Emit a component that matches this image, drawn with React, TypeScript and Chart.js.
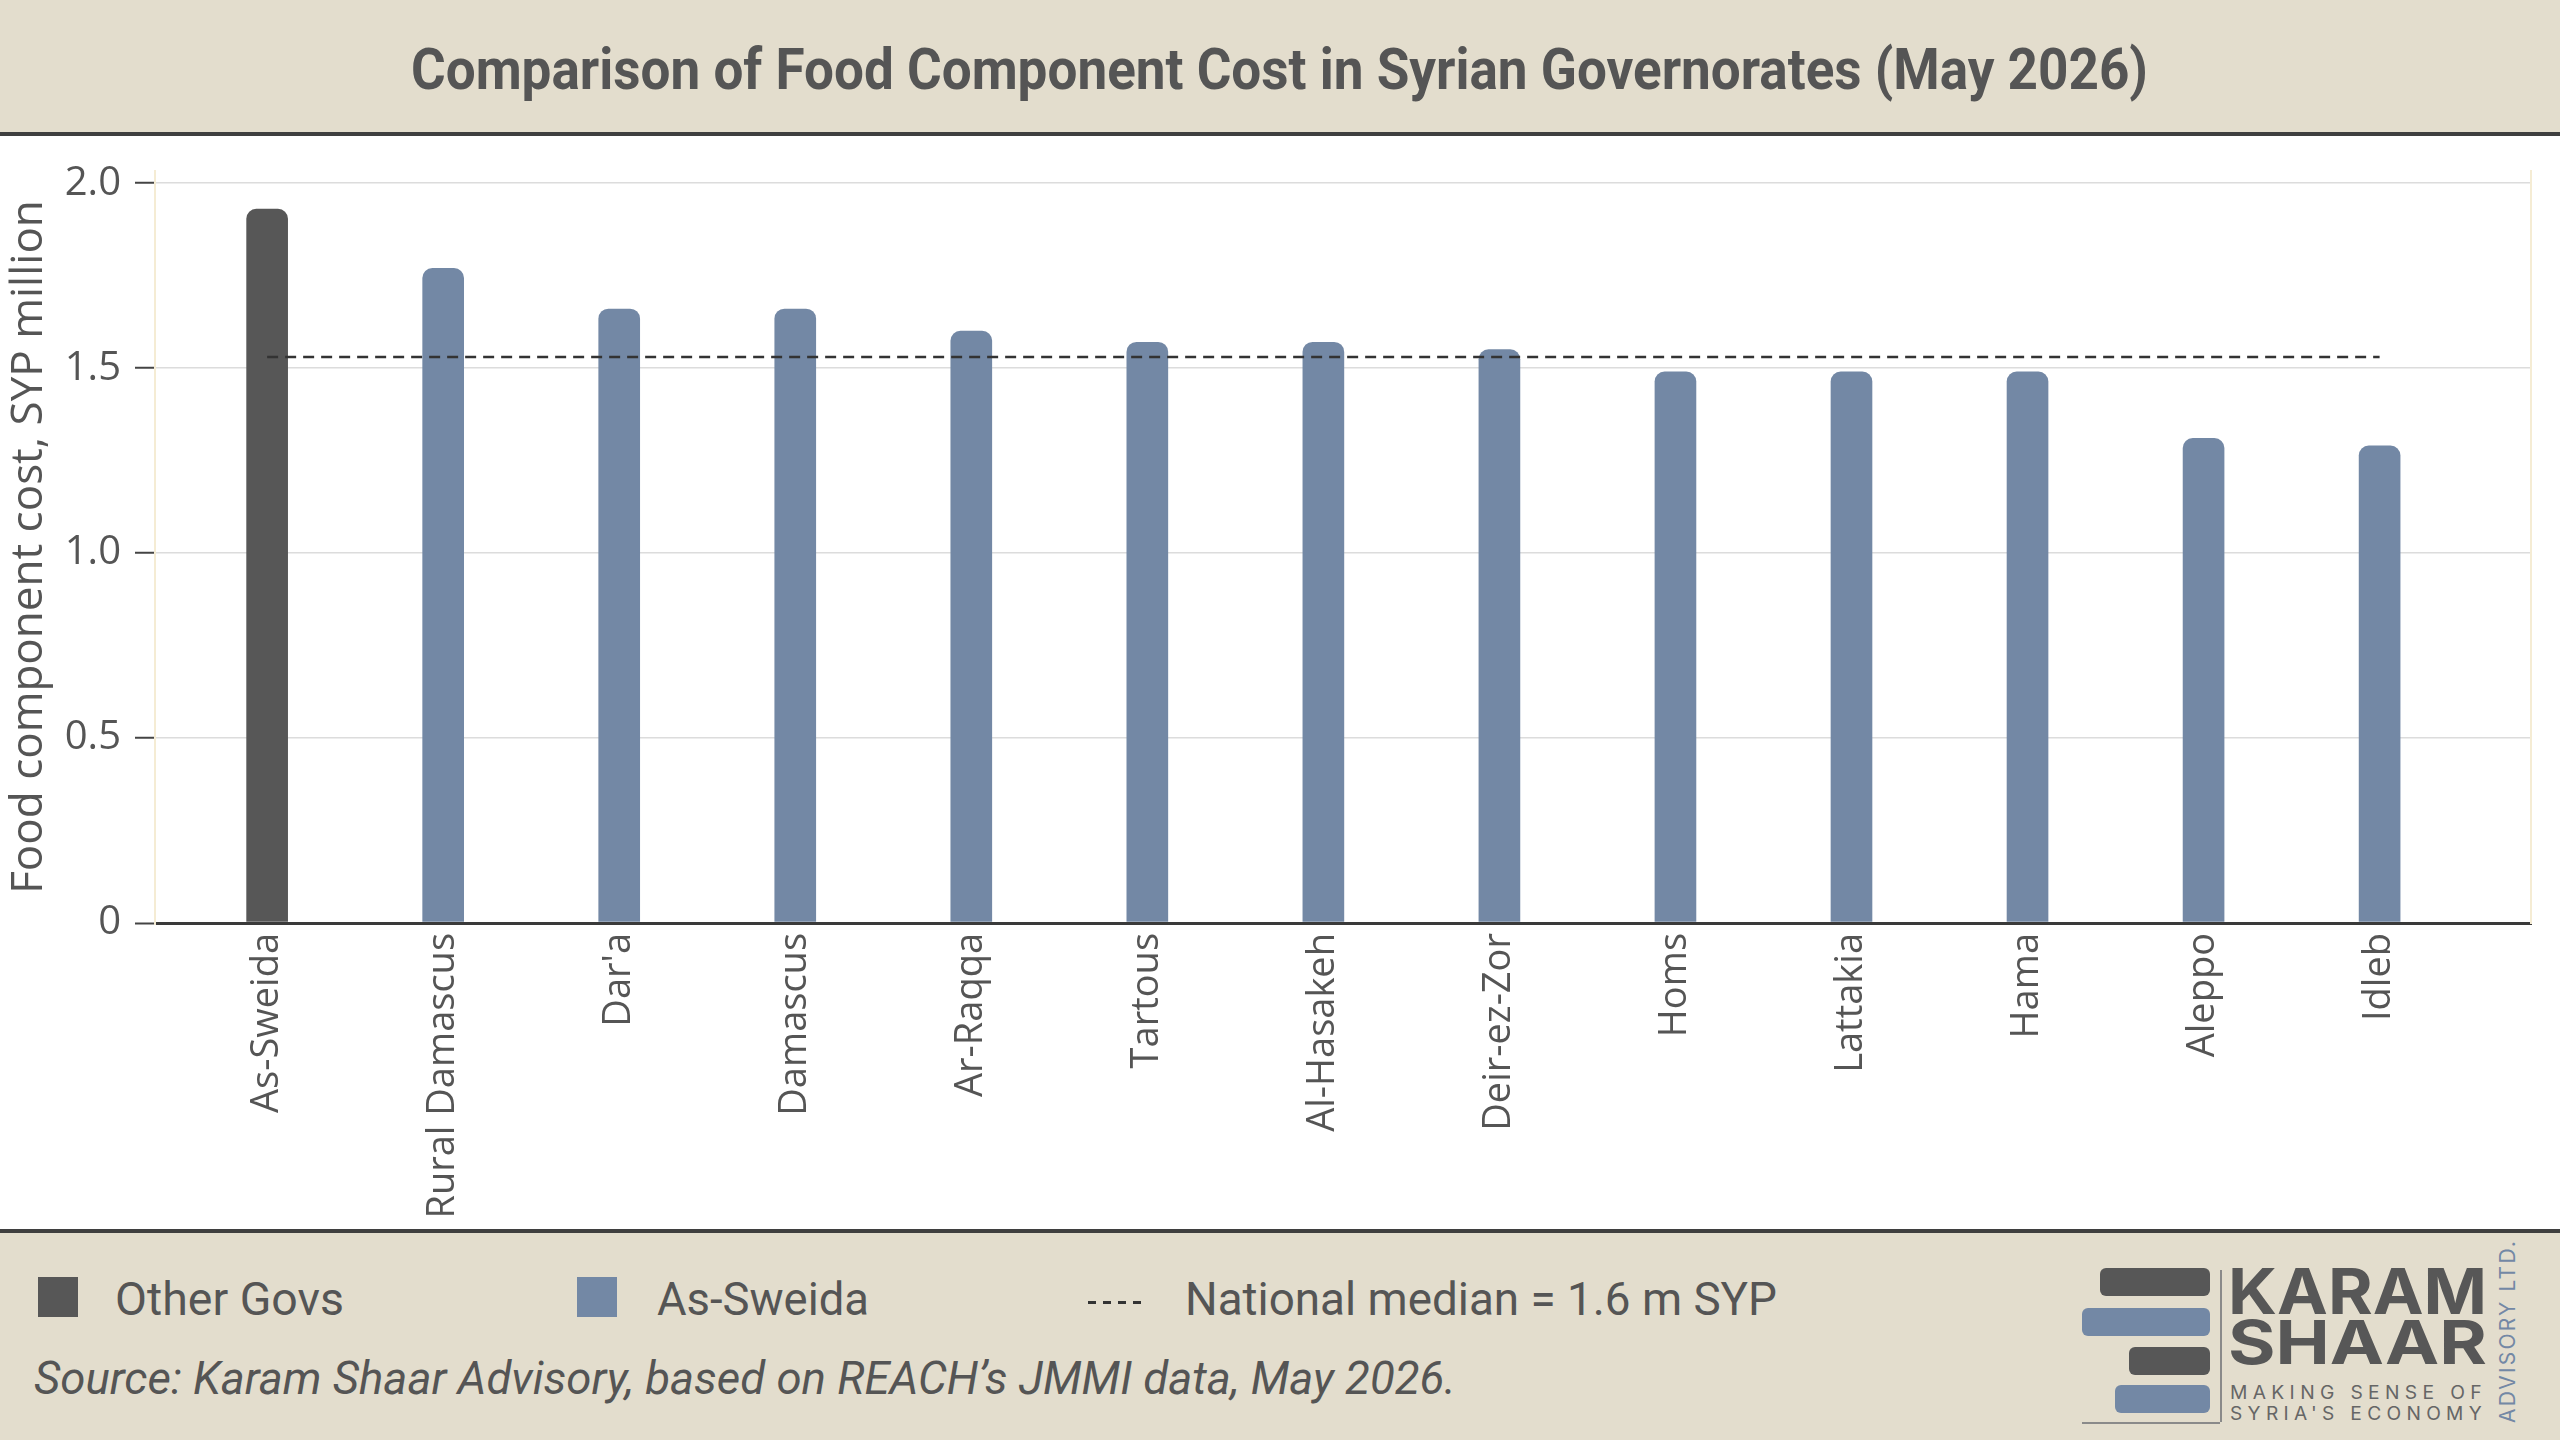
import React, { useEffect, useLayoutEffect, useRef } from 'react';
import Chart from 'chart.js/auto';

// data
const categories = [
  'As-Sweida', 'Rural Damascus', "Dar'a", 'Damascus', 'Ar-Raqqa', 'Tartous', 'Al-Hasakeh',
  'Deir-ez-Zor', 'Homs', 'Lattakia', 'Hama', 'Aleppo', 'Idleb',
];
const foodCost = [1.93, 1.77, 1.66, 1.66, 1.6, 1.57, 1.57, 1.55, 1.49, 1.49, 1.49, 1.31, 1.29];
const nationalMedian = 1.53;
const yTicks = [0, 0.5, 1, 1.5, 2];
const highlight = 'As-Sweida';

const DARK = '#575757';
const BLUE = '#7388a5';
const BEIGE = '#e3ddcd';
const TEXT = '#555555';

function Fit({ text, width, style }: { text: string; width: number; style?: React.CSSProperties }) {
  const ref = useRef<HTMLSpanElement | null>(null);
  useLayoutEffect(() => {
    const fit = () => {
      const el = ref.current;
      if (!el) return;
      el.style.transform = 'none';
      const w = el.getBoundingClientRect().width;
      if (w > 0) el.style.transform = `scaleX(${width / w})`;
    };
    fit();
    if (document.fonts) document.fonts.ready.then(fit);
  }, [text, width]);
  return (
    <span
      ref={ref}
      style={{ display: 'inline-block', whiteSpace: 'nowrap', transformOrigin: 'left center', ...style }}
    >
      {text}
    </span>
  );
}

function FoodChart() {
  const chartRef = useRef<HTMLCanvasElement | null>(null);

  useEffect(() => {
    if (!chartRef.current) return;

    const chart = new Chart(chartRef.current, {
      type: 'bar',
      data: {
        datasets: [
          {
            type: 'line',
            label: 'National median',
            data: categories.map((_, i) => ({ x: i, y: nationalMedian })),
            borderColor: '#333333',
            borderWidth: 2.5,
            borderDash: [11, 7],
            pointRadius: 0,
            order: 0,
          } as any,
          {
            label: 'Food component cost',
            data: categories.map((c, i) => ({ x: i, y: foodCost[i] })),
            backgroundColor: categories.map((c) => (c === highlight ? DARK : BLUE)),
            barThickness: 41,
            borderRadius: { topLeft: 10, topRight: 10, bottomLeft: 0, bottomRight: 0 },
            borderSkipped: false,
            order: 1,
          },
        ],
      },
      options: {
        animation: false,
        responsive: true,
        maintainAspectRatio: false,
        layout: { padding: { top: 171, right: 29, bottom: 0, left: 0 } },
        plugins: {
          legend: { display: false },
          tooltip: { enabled: false },
        },
        scales: {
          x: {
            type: 'linear',
            offset: false,
            min: -0.637,
            max: 12.86,
            afterBuildTicks: (axis) => {
              axis.ticks = categories.map((_, i) => ({ value: i }));
            },
            afterFit: (scale) => {
              scale.height = 517;
            },
            ticks: {
              autoSkip: false,
              maxRotation: 90,
              minRotation: 90,
              padding: 10,
              color: TEXT,
              font: { family: 'Open Sans', size: 38 },
              callback: (v) => categories[v as number] ?? '',
            },
            grid: { display: false, drawTicks: false },
            border: { display: true, color: '#3a3a3a', width: 3 },
          },
          y: {
            min: 0,
            max: 2.033,
            afterBuildTicks: (axis) => {
              axis.ticks = yTicks.map((v) => ({ value: v }));
            },
            afterFit: (scale) => {
              scale.width = 155;
            },
            ticks: {
              padding: 14,
              color: TEXT,
              font: { family: 'Open Sans', size: 40 },
              callback: (v) => (v === 0 ? '0' : (v as number).toFixed(1)),
            },
            grid: {
              color: (ctx) => (ctx.tick && ctx.tick.value === 0 ? '#3a3a3a' : '#dcdcdc'),
              lineWidth: (ctx) => (ctx.tick && ctx.tick.value === 0 ? 3 : 1.5),
              tickLength: 20,
              tickColor: '#444444',
              tickWidth: 2,
            },
            border: { display: true, color: '#f5ecd4', width: 2 },
            title: {
              display: true,
              text: 'Food component cost, SYP million',
              color: TEXT,
              font: { family: 'Open Sans', size: 44 },
              padding: { top: 3, bottom: 0 },
            },
          },
          yRight: {
            position: 'right',
            min: 0,
            max: 2.033,
            afterFit: (scale) => {
              scale.width = 0;
            },
            ticks: { display: false },
            grid: { display: false, drawTicks: false },
            border: { display: true, color: '#f5ecd4', width: 2 },
          },
        },
      },
    });

    return () => chart.destroy();
  }, []);

  return <canvas ref={chartRef} />;
}

function Logo() {
  const bar = (left: number, top: number, width: number, color: string) => (
    <div
      style={{
        position: 'absolute', left, top, width, height: 28,
        background: color, borderRadius: 6,
      }}
    />
  );
  return (
    <>
      {bar(2100, 1268, 110, DARK)}
      {bar(2082, 1308, 128, BLUE)}
      {bar(2129, 1347, 81, DARK)}
      {bar(2115, 1385, 95, BLUE)}
      <div style={{ position: 'absolute', left: 2220, top: 1270, width: 1.5, height: 152, background: '#8a8a8a' }} />
      <div style={{ position: 'absolute', left: 2082, top: 1422, width: 138, height: 1.5, background: '#8a8a8a' }} />
      <div style={{ position: 'absolute', left: 2228, top: 1262, lineHeight: '58px' }}>
        <Fit text="KARAM" width={259} style={{ fontFamily: 'Inter', fontWeight: 700, fontSize: 63, color: DARK }} />
      </div>
      <div style={{ position: 'absolute', left: 2228, top: 1313, lineHeight: '58px' }}>
        <Fit text="SHAAR" width={259} style={{ fontFamily: 'Inter', fontWeight: 700, fontSize: 60, color: DARK }} />
      </div>
      <div style={{ position: 'absolute', left: 2230, top: 1383, lineHeight: '20px' }}>
        <Fit text="MAKING SENSE OF" width={257} style={{ fontFamily: 'Inter', fontSize: 18, letterSpacing: 5, color: '#666' }} />
      </div>
      <div style={{ position: 'absolute', left: 2230, top: 1404, lineHeight: '20px' }}>
        <Fit text="SYRIA'S ECONOMY" width={257} style={{ fontFamily: 'Inter', fontSize: 18, letterSpacing: 5, color: '#666' }} />
      </div>
      <div
        style={{
          position: 'absolute', left: 2496, top: 1266, height: 157,
          writingMode: 'vertical-rl', transform: 'rotate(180deg)',
          fontFamily: 'Inter', fontSize: 21, letterSpacing: 2.2, color: BLUE,
          whiteSpace: 'nowrap', lineHeight: '24px',
        }}
      >
        ADVISORY LTD.
      </div>
    </>
  );
}

export default function App() {
  const legendText: React.CSSProperties = { fontFamily: 'Roboto', fontSize: 47, color: TEXT };
  return (
    <div style={{ position: 'absolute', left: 0, top: 0, width: 2560, height: 1440, background: '#ffffff', overflow: 'hidden' }}>
      <div style={{ position: 'absolute', left: 0, top: 0, width: 2560, height: 1440 }}>
        <FoodChart />
      </div>

      <div
        style={{
          position: 'absolute', left: 0, top: 0, width: 2560, height: 132,
          background: BEIGE, borderBottom: '4px solid #3f3f3f',
        }}
      >
        <div style={{ position: 'absolute', left: 411, top: 38, lineHeight: '64px' }}>
          <Fit
            text="Comparison of Food Component Cost in Syrian Governorates (May 2026)"
            width={1737}
            style={{ fontFamily: 'Roboto', fontWeight: 700, fontSize: 57, color: TEXT }}
          />
        </div>
      </div>

      <div
        style={{
          position: 'absolute', left: 0, top: 1229, width: 2560, height: 211,
          background: BEIGE, borderTop: '4px solid #3f3f3f',
        }}
      />

      <div style={{ position: 'absolute', left: 38, top: 1277, width: 40, height: 40, background: DARK }} />
      <div style={{ position: 'absolute', left: 115, top: 1270, lineHeight: '58px' }}>
        <Fit text="Other Govs" width={229} style={legendText} />
      </div>
      <div style={{ position: 'absolute', left: 577, top: 1277, width: 40, height: 40, background: BLUE }} />
      <div style={{ position: 'absolute', left: 657, top: 1270, lineHeight: '58px' }}>
        <Fit text="As-Sweida" width={212} style={legendText} />
      </div>
      <div
        style={{
          position: 'absolute', left: 1088, top: 1301, width: 54, height: 3,
          background: 'repeating-linear-gradient(to right, #333 0 8px, transparent 8px 15px)',
        }}
      />
      <div style={{ position: 'absolute', left: 1185, top: 1270, lineHeight: '58px' }}>
        <Fit text="National median = 1.6 m SYP" width={592} style={legendText} />
      </div>
      <div style={{ position: 'absolute', left: 34, top: 1349, lineHeight: '58px' }}>
        <Fit
          text="Source: Karam Shaar Advisory, based on REACH’s JMMI data, May 2026."
          width={1422}
          style={{ ...legendText, fontSize: 46, fontStyle: 'italic' }}
        />
      </div>

      <Logo />
    </div>
  );
}
